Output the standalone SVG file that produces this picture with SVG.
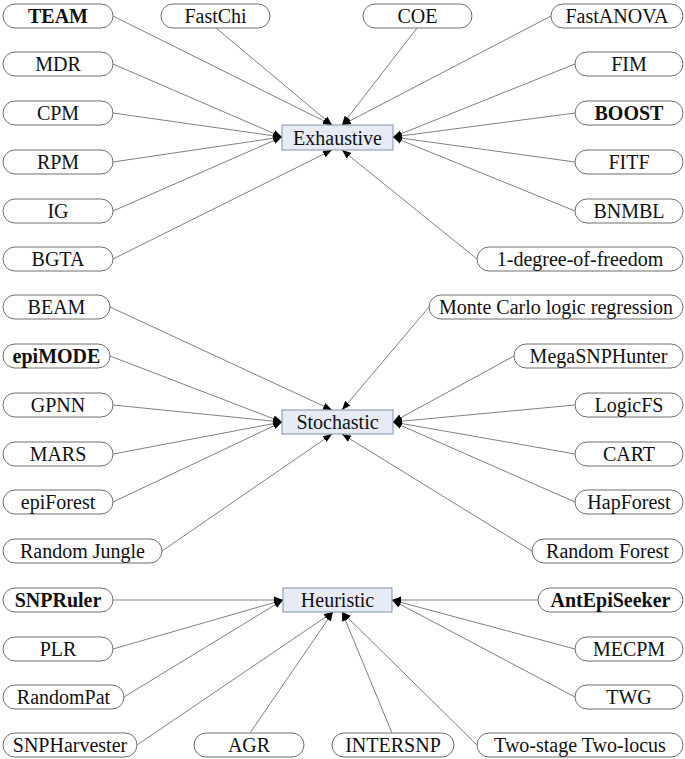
<svg xmlns="http://www.w3.org/2000/svg" width="685" height="759" viewBox="0 0 685 759">
<style>
.pill{fill:#fff;stroke:#6e6e6e;stroke-width:1}
.hub{fill:#e6ebf6;stroke:#8192ae;stroke-width:1}
.t text{font-size:20px;fill:#111;text-anchor:middle}
.b{font-weight:bold}
#connectors line{stroke:#808080;stroke-width:1;marker-end:url(#ah)}
</style>
<defs>
<marker id="ah" markerUnits="userSpaceOnUse" markerWidth="10" markerHeight="8" refX="9" refY="4" orient="auto">
<path d="M0,0.5 L9,4 L0,7.5 Z" fill="#000"/>
</marker>
</defs>
<rect width="685" height="759" fill="#fff"/>
<g id="connectors">
<line x1="113" y1="16" x2="332" y2="125"/>
<line x1="216" y1="28" x2="332" y2="125"/>
<line x1="417" y1="28" x2="342" y2="125"/>
<line x1="551" y1="16" x2="342" y2="125"/>
<line x1="113" y1="64" x2="282" y2="137"/>
<line x1="113" y1="113" x2="282" y2="137"/>
<line x1="113" y1="162" x2="282" y2="137"/>
<line x1="113" y1="211" x2="282" y2="137"/>
<line x1="113" y1="259" x2="332" y2="150"/>
<line x1="575" y1="64" x2="393" y2="137"/>
<line x1="575" y1="113" x2="393" y2="137"/>
<line x1="575" y1="162" x2="393" y2="137"/>
<line x1="575" y1="211" x2="393" y2="137"/>
<line x1="477" y1="259" x2="342" y2="150"/>
<line x1="110" y1="307" x2="332" y2="410"/>
<line x1="429" y1="307" x2="342" y2="410"/>
<line x1="110" y1="356" x2="282" y2="422"/>
<line x1="113" y1="405" x2="282" y2="422"/>
<line x1="113" y1="454" x2="282" y2="422"/>
<line x1="113" y1="502" x2="282" y2="422"/>
<line x1="162" y1="551" x2="332" y2="434"/>
<line x1="514" y1="356" x2="393" y2="422"/>
<line x1="575" y1="405" x2="393" y2="422"/>
<line x1="575" y1="454" x2="393" y2="422"/>
<line x1="575" y1="502" x2="393" y2="422"/>
<line x1="532" y1="551" x2="342" y2="434"/>
<line x1="113" y1="600" x2="283" y2="600"/>
<line x1="113" y1="649" x2="283" y2="600"/>
<line x1="124" y1="697" x2="283" y2="600"/>
<line x1="137" y1="745" x2="333" y2="612"/>
<line x1="250" y1="733" x2="333" y2="612"/>
<line x1="392" y1="733" x2="342" y2="612"/>
<line x1="477" y1="745" x2="342" y2="612"/>
<line x1="538" y1="600" x2="392" y2="600"/>
<line x1="575" y1="649" x2="392" y2="600"/>
<line x1="575" y1="697" x2="392" y2="600"/>
</g>
<g class="t" font-family="'Liberation Serif', 'DejaVu Serif', serif">
<g id="exhaustive"><rect class="hub" x="282" y="125" width="111" height="25"/><text x="337.5" y="144.5">Exhaustive</text></g>
<g id="stochastic"><rect class="hub" x="282" y="410" width="111" height="24"/><text x="337.5" y="429">Stochastic</text></g>
<g id="heuristic"><rect class="hub" x="283" y="588" width="109" height="24"/><text x="337.5" y="607">Heuristic</text></g>

<g id="team"><rect class="pill" x="3" y="4" width="110" height="24" rx="12"/><text class="b" x="58" y="23">TEAM</text></g>
<g id="fastchi"><rect class="pill" x="161" y="4" width="109" height="24" rx="12"/><text x="215.5" y="23">FastChi</text></g>
<g id="coe"><rect class="pill" x="363" y="4" width="109" height="24" rx="12"/><text x="417.5" y="23">COE</text></g>
<g id="fastanova"><rect class="pill" x="551" y="4" width="132" height="24" rx="12"/><text x="617" y="23">FastANOVA</text></g>
<g id="mdr"><rect class="pill" x="3" y="52" width="110" height="24" rx="12"/><text x="58" y="71">MDR</text></g>
<g id="cpm"><rect class="pill" x="3" y="101" width="110" height="24" rx="12"/><text x="58" y="120">CPM</text></g>
<g id="rpm"><rect class="pill" x="3" y="150" width="110" height="24" rx="12"/><text x="58" y="169">RPM</text></g>
<g id="ig"><rect class="pill" x="3" y="199" width="110" height="24" rx="12"/><text x="58" y="218">IG</text></g>
<g id="bgta"><rect class="pill" x="3" y="247" width="110" height="24" rx="12"/><text x="58" y="266">BGTA</text></g>
<g id="fim"><rect class="pill" x="575" y="52" width="108" height="24" rx="12"/><text x="629" y="71">FIM</text></g>
<g id="boost"><rect class="pill" x="575" y="101" width="108" height="24" rx="12"/><text class="b" x="629" y="120">BOOST</text></g>
<g id="fitf"><rect class="pill" x="575" y="150" width="108" height="24" rx="12"/><text x="629" y="169">FITF</text></g>
<g id="bnmbl"><rect class="pill" x="575" y="199" width="108" height="24" rx="12"/><text x="629" y="218">BNMBL</text></g>
<g id="onedf"><rect class="pill" x="477" y="247" width="206" height="24" rx="12"/><text x="580" y="266">1-degree-of-freedom</text></g>

<g id="beam"><rect class="pill" x="3" y="295" width="107" height="24" rx="12"/><text x="56.5" y="314">BEAM</text></g>
<g id="epimode"><rect class="pill" x="3" y="344" width="107" height="24" rx="12"/><text class="b" x="56.5" y="363">epiMODE</text></g>
<g id="gpnn"><rect class="pill" x="3" y="393" width="110" height="24" rx="12"/><text x="58" y="412">GPNN</text></g>
<g id="mars"><rect class="pill" x="3" y="442" width="110" height="24" rx="12"/><text x="58" y="461">MARS</text></g>
<g id="epiforest"><rect class="pill" x="3" y="490" width="110" height="24" rx="12"/><text x="58" y="509">epiForest</text></g>
<g id="randomjungle"><rect class="pill" x="3" y="539" width="159" height="24" rx="12"/><text x="82.5" y="558">Random Jungle</text></g>
<g id="montecarlo"><rect class="pill" x="429" y="295" width="254" height="24" rx="12"/><text x="556" y="314">Monte Carlo logic regression</text></g>
<g id="megasnphunter"><rect class="pill" x="514" y="344" width="169" height="24" rx="12"/><text x="598.5" y="363">MegaSNPHunter</text></g>
<g id="logicfs"><rect class="pill" x="575" y="393" width="108" height="24" rx="12"/><text x="629" y="412">LogicFS</text></g>
<g id="cart"><rect class="pill" x="575" y="442" width="108" height="24" rx="12"/><text x="629" y="461">CART</text></g>
<g id="hapforest"><rect class="pill" x="575" y="490" width="108" height="24" rx="12"/><text x="629" y="509">HapForest</text></g>
<g id="randomforest"><rect class="pill" x="532" y="539" width="151" height="24" rx="12"/><text x="607.5" y="558">Random Forest</text></g>

<g id="snpruler"><rect class="pill" x="3" y="588" width="110" height="24" rx="12"/><text class="b" x="58" y="607">SNPRuler</text></g>
<g id="plr"><rect class="pill" x="3" y="637" width="110" height="24" rx="12"/><text x="58" y="656">PLR</text></g>
<g id="randompat"><rect class="pill" x="3" y="685" width="121" height="24" rx="12"/><text x="63.5" y="704">RandomPat</text></g>
<g id="snpharvester"><rect class="pill" x="3" y="733" width="134" height="24" rx="12"/><text x="70" y="752">SNPHarvester</text></g>
<g id="agr"><rect class="pill" x="194" y="733" width="110" height="24" rx="12"/><text x="249" y="752">AGR</text></g>
<g id="intersnp"><rect class="pill" x="332" y="733" width="122" height="24" rx="12"/><text x="393" y="752">INTERSNP</text></g>
<g id="twostage"><rect class="pill" x="477" y="733" width="206" height="24" rx="12"/><text x="580" y="752">Two-stage Two-locus</text></g>
<g id="antepiseeker"><rect class="pill" x="538" y="588" width="145" height="24" rx="12"/><text class="b" x="610.5" y="607">AntEpiSeeker</text></g>
<g id="mecpm"><rect class="pill" x="575" y="637" width="108" height="24" rx="12"/><text x="629" y="656">MECPM</text></g>
<g id="twg"><rect class="pill" x="575" y="685" width="108" height="24" rx="12"/><text x="629" y="704">TWG</text></g>
</g>
</svg>
